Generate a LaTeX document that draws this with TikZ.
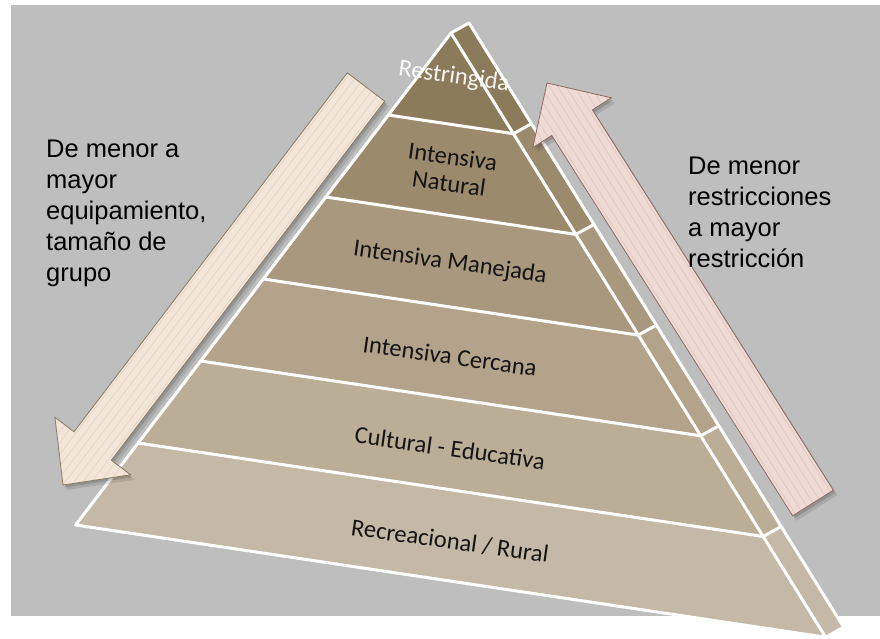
\documentclass[tikz,border=0pt]{standalone}
\usepackage{fontspec}
\setmainfont{Liberation Sans}
\newfontfamily\calib{Carlito}
\definecolor{bg}{HTML}{BEBEBE}
\definecolor{b1}{HTML}{8C7B5B}
\definecolor{b2}{HTML}{9B8A6C}
\definecolor{b3}{HTML}{A8987D}
\definecolor{b4}{HTML}{B2A38A}
\definecolor{b5}{HTML}{BBAE97}
\definecolor{b6}{HTML}{C4B9A6}
\definecolor{arrL}{HTML}{F2E6D8}
\definecolor{arrLs}{HTML}{E4D5C2}
\definecolor{arrLo}{HTML}{8A7A62}
\definecolor{arrR}{HTML}{EFDAD5}
\definecolor{arrRs}{HTML}{E0C6C0}
\definecolor{arrRo}{HTML}{8E6A64}
\begin{document}
\begin{tikzpicture}[x=1pt,y=-1pt,
  wl/.style={draw=white, line width=3pt, line join=round, line cap=round},
  lbl/.style={font=\calib\fontsize{24.5}{27}\selectfont, text=black!92, rotate=-8, align=center, inner sep=0pt},
  sidetext/.style={font=\fontsize{25.5}{31}\selectfont, align=left, anchor=north west, inner sep=0pt, text=black},
  shade1/.style={fill=black, opacity=0.14},
  shade2/.style={fill=black, opacity=0.10}]
\useasboundingbox (0,0) rectangle (880,639);
\fill[bg] (11,5) rectangle (880,616);

% front face corners
\coordinate (A)  at (451,33);
\coordinate (L1) at (388.4,115);
\coordinate (L2) at (325.9,197);
\coordinate (L3) at (263.3,279);
\coordinate (L4) at (200.7,361);
\coordinate (L5) at (138.2,443);
\coordinate (L6) at (75.6,525);
\coordinate (R1) at (513.4,133.7);
\coordinate (R2) at (575.9,234.4);
\coordinate (R3) at (638.3,335.1);
\coordinate (R4) at (700.8,435.8);
\coordinate (R5) at (763.2,536.5);
\coordinate (R6) at (825.6,637.2);
% side strip outer edge
\coordinate (O0) at (469,23);
\coordinate (O1) at (531.4,123.7);
\coordinate (O2) at (593.9,224.4);
\coordinate (O3) at (656.3,325.1);
\coordinate (O4) at (718.8,425.8);
\coordinate (O5) at (781.2,526.5);
\coordinate (O6) at (843.6,627.2);

% bands
\fill[b1] (A) -- (R1) -- (L1) -- cycle;
\fill[b2] (L1) -- (R1) -- (R2) -- (L2) -- cycle;
\fill[b3] (L2) -- (R2) -- (R3) -- (L3) -- cycle;
\fill[b4] (L3) -- (R3) -- (R4) -- (L4) -- cycle;
\fill[b5] (L4) -- (R4) -- (R5) -- (L5) -- cycle;
\fill[b6] (L5) -- (R5) -- (R6) -- (L6) -- cycle;
% side strip
\fill[b1] (A) -- (O0) -- (O1) -- (R1) -- cycle;
\fill[b2] (R1) -- (O1) -- (O2) -- (R2) -- cycle;
\fill[b3] (R2) -- (O2) -- (O3) -- (R3) -- cycle;
\fill[b4] (R3) -- (O3) -- (O4) -- (R4) -- cycle;
\fill[b5] (R4) -- (O4) -- (O5) -- (R5) -- cycle;
\fill[b6] (R5) -- (O5) -- (O6) -- (R6) -- cycle;

% white lines
\draw[wl] (L6) -- (A) -- (R6) -- cycle;
\draw[wl] (A) -- (O0) -- (O6) -- (R6);
\foreach \k in {1,...,5} {
  \draw[wl] (L\k) -- (R\k) -- (O\k);
}

% left arrow (down-left)
\def\arrowL{(347.3,72.8) -- (74,431.8) -- (54.9,417.2) -- (63,485) -- (130.5,474.8) -- (111.4,460.2) -- (384.7,101.2) -- cycle}
\fill[shade2, shift={(4,5)}] \arrowL;
\fill[shade1, shift={(2,2.5)}] \arrowL;
\fill[arrL] \arrowL;
\begin{scope}
  \clip \arrowL;
  \begin{scope}[shift={(366,87)}, rotate=232.7]
    \foreach \s in {-49,-42,...,49} {
      \draw[arrLs, line width=0.7pt] (-20,\s) -- (520,\s);
    }
  \end{scope}
\end{scope}
\draw[arrLo, line width=0.8pt, line join=miter] \arrowL;

% right arrow (up-left)
\def\arrowR{(833.3,490.2) -- (592.4,109.9) -- (611.4,97.8) -- (547,83) -- (532.8,147.6) -- (551.8,135.5) -- (792.7,515.8) -- cycle}
\fill[shade2, shift={(4,5)}] \arrowR;
\fill[shade1, shift={(2,2.5)}] \arrowR;
\fill[arrR] \arrowR;
\begin{scope}
  \clip \arrowR;
  \begin{scope}[shift={(813,503)}, rotate=122.34]
    \foreach \s in {-49,-42,...,49} {
      \draw[arrRs, line width=0.7pt] (-20,\s) -- (520,\s);
    }
  \end{scope}
\end{scope}
\draw[arrRo, line width=0.8pt, line join=miter] \arrowR;

% pyramid labels
\node[lbl, text=white, opacity=0.92] (restr) at (454,77) {Restringida};
\node[lbl] (natural) at (451,170) {Intensiva\\Natural};
\node[lbl] (manejada) at (450,263) {Intensiva Manejada};
\node[lbl] (cercana) at (450,356) {Intensiva Cercana};
\node[lbl] (cultural) at (450,448) {Cultural - Educativa};
\node[lbl] (recre) at (450,541) {Recreacional / Rural};

% side texts
\node[sidetext] (lefttext) at (46,140) {De menor a\\mayor\\equipamiento,\\tamaño de\\grupo};
\node[sidetext] (righttext) at (688,157) {De menor\\restricciones\\a mayor\\restricción};
\end{tikzpicture}
\end{document}
